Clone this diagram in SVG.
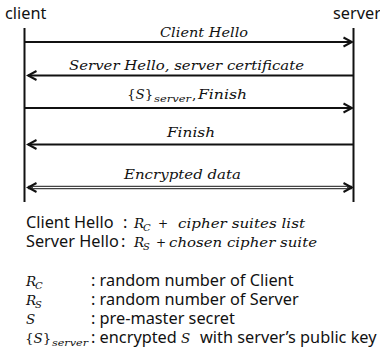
<svg xmlns="http://www.w3.org/2000/svg" width="380" height="353" viewBox="0 0 380 353">
<style>
.sans{font-family:"Noto Sans","Liberation Sans",sans-serif;font-size:16.3px;fill:#111}
.math{font-family:"DejaVu Serif","Liberation Serif",serif;font-style:italic;font-size:13.5px;fill:#111}
.up{font-style:normal}
.sub{font-size:10px}
.plus{font-size:12px}
.life{stroke:#111;stroke-width:2;fill:none}
.msg{stroke:#111;stroke-width:2;fill:none;marker-end:url(#head)}
</style>
<defs>
<marker id="head" viewBox="0 0 12 12" refX="10" refY="6" markerWidth="12" markerHeight="12" markerUnits="userSpaceOnUse" orient="auto-start-reverse">
<path d="M1.5,1.5 L10,6 L1.5,10.5" fill="none" stroke="#111" stroke-width="2"/>
</marker>
</defs>
<rect width="380" height="353" fill="#fff"/>
<g id="client">
<text class="sans" x="5" y="19">client</text>
<line class="life" x1="24.5" y1="28" x2="24.5" y2="202"/>
</g>
<g id="server">
<text class="sans" x="333" y="19">server</text>
<line class="life" x1="353.5" y1="28" x2="353.5" y2="202"/>
</g>
<g id="connectors">
<line class="msg" x1="25" y1="42" x2="352" y2="42"/>
<line class="msg" x1="353" y1="75.5" x2="28" y2="75.5"/>
<line class="msg" x1="25" y1="108" x2="352" y2="108"/>
<line class="msg" x1="353" y1="144.5" x2="28" y2="144.5"/>
<path d="M28,187.5 L352,187.5" stroke="#444" stroke-width="3.4" fill="none" marker-start="url(#head)" marker-end="url(#head)"/>
<path d="M33,187.5 L347,187.5" stroke="#fff" stroke-width="1.2" fill="none"/>
</g>
<g id="labels">
<text class="math" x="160" y="37" textLength="88" lengthAdjust="spacingAndGlyphs">Client Hello</text>
<text class="math" x="69" y="70" textLength="235" lengthAdjust="spacingAndGlyphs">Server Hello, server certificate</text>
<text class="math" x="127" y="99"><tspan class="up">{</tspan>S<tspan class="up">}</tspan></text>
<text class="math sub" x="154" y="102" textLength="37" lengthAdjust="spacingAndGlyphs">server</text>
<text class="math" x="192" y="99"><tspan class="up">,</tspan></text>
<text class="math" x="198" y="99" textLength="49" lengthAdjust="spacingAndGlyphs">Finish</text>
<text class="math" x="167" y="137" textLength="48" lengthAdjust="spacingAndGlyphs">Finish</text>
<text class="math" x="124" y="179" textLength="117" lengthAdjust="spacingAndGlyphs">Encrypted data</text>
</g>
<g id="legend">
<text class="sans" x="26" y="228">Client Hello</text>
<text class="sans" x="123" y="228">:</text>
<text class="math" x="134" y="228">R</text>
<text class="math sub" x="143" y="231">C</text>
<text class="math up plus" x="158" y="228">+</text>
<text class="math" x="178" y="228" textLength="127" lengthAdjust="spacingAndGlyphs">cipher suites list</text>
<text class="sans" x="26" y="247">Server Hello</text>
<text class="sans" x="121" y="247">:</text>
<text class="math" x="134" y="247">R</text>
<text class="math sub" x="143" y="250">S</text>
<text class="math up plus" x="156" y="247">+</text>
<text class="math" x="169" y="247" textLength="148" lengthAdjust="spacingAndGlyphs">chosen cipher suite</text>
<text class="math" x="26" y="286">R</text>
<text class="math sub" x="35" y="289">C</text>
<text class="sans" x="91" y="286">: random number of Client</text>
<text class="math" x="26" y="305">R</text>
<text class="math sub" x="35" y="308">S</text>
<text class="sans" x="91" y="305">: random number of Server</text>
<text class="math" x="26" y="324">S</text>
<text class="sans" x="91" y="324">: pre-master secret</text>
<text class="math" x="25" y="343"><tspan class="up">{</tspan>S<tspan class="up">}</tspan></text>
<text class="math sub" x="52" y="346" textLength="36" lengthAdjust="spacingAndGlyphs">server</text>
<text class="sans" x="91" y="343">: encrypted</text>
<text class="math" x="181" y="343">S</text>
<text class="sans" x="200" y="343">with server’s public key</text>
</g>
</svg>
